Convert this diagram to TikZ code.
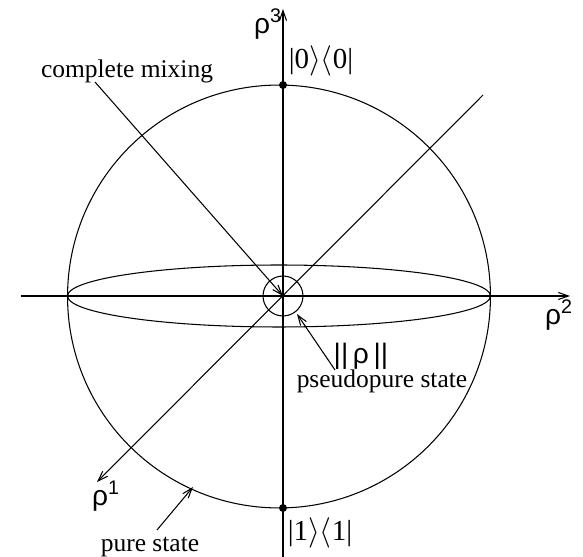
\documentclass[tikz,border=0pt]{standalone}
\usepackage{fontspec}
\setmainfont{Liberation Serif}
\newfontfamily\rhofont{Liberation Sans}
\usepackage{tikz}
\usetikzlibrary{arrows.meta}

\begin{document}
\begin{tikzpicture}[x=0.02cm, y=-0.02cm, line width=0.6pt,
  every node/.style={inner sep=0pt},
  lab/.style={font=\fontsize{14.5}{16}\selectfont},
  sym/.style={font=\rhofont\fontsize{16}{18}\selectfont},
  ket/.style={font=\fontsize{16.5}{18}\selectfont},
  dot/.style={circle,fill=black,minimum size=0.16cm},
  tip/.style={-{Straight Barb[length=0.2cm,width=0.14cm]}}]
  \useasboundingbox (0,0) rectangle (583,557);
  \coordinate (o) at (283,296);
  \draw (279,296.5) circle[radius=4.23cm];
  \draw (279,296) ellipse[x radius=4.23cm, y radius=0.62cm];
  \draw (o) circle[radius=0.4cm];
  \coordinate (zlo) at (283,557); \coordinate (zhi) at (283,9);
  \coordinate (ylo) at (21,296); \coordinate (yhi) at (570,296);
  \coordinate (xhi) at (483,95); \coordinate (xlo) at (97,482);
  \draw[tip] (zlo)--(zhi); \draw[tip] (ylo)--(yhi); \draw[tip] (xhi)--(xlo);
  \node[dot] (top) at (283,85) {}; \node[dot] (bot) at (283,508) {};
  \node[sym] (r3) at (268,24) {ρ\textsuperscript{3}};
  \node[sym] (r2) at (559,315) {ρ\textsuperscript{2}};
  \node[sym] (r1) at (106,496) {ρ\textsuperscript{1}};
  \node[ket] (k0) at (321,61) {|0$\rangle\langle$0|};
  \node[ket] (k1) at (320,533) {|1$\rangle\langle$1|};
  \node[lab] (mix) at (127,71) {complete mixing};
  \coordinate (mixend) at (95,82);
  \draw[tip] (mixend)--(o);
  \node[sym] (norm) at (361,356) {||\,ρ\,||};
  \node[lab] (pseudo) at (382,381) {pseudopure state};
  \coordinate (pseudoend) at (335,370); \coordinate (pseudopt) at (297,314);
  \draw[tip] (pseudoend)--(pseudopt);
  \node[lab] (pure) at (150,547) {pure state};
  \coordinate (pureend) at (157,530); \coordinate (purept) at (193,487);
  \draw[tip] (pureend)--(purept);
\end{tikzpicture}
\end{document}
